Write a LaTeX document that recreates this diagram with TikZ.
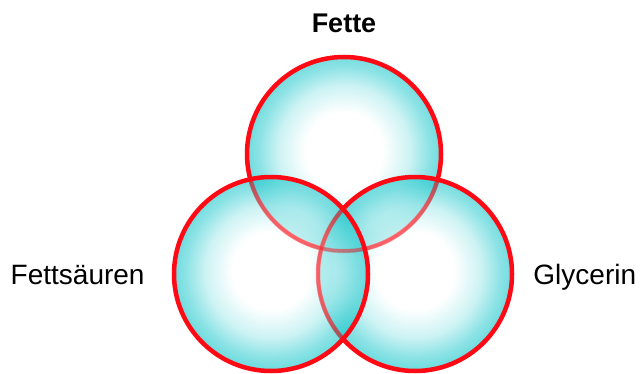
\documentclass[tikz,border=0pt]{standalone}
\usepackage{xcolor}
\usepackage{tikz}
\usetikzlibrary{positioning}
\usepackage{fontspec}
\setmainfont{Liberation Sans}
\definecolor{fetred}{HTML}{FF0A14}
\definecolor{fetteal}{HTML}{10C4C9}
\pgfdeclareradialshading{fetbubble}{\pgfpoint{0bp}{1bp}}{%
  color(0bp)=(white); color(10bp)=(white); color(17bp)=(fetteal!35);
  color(22bp)=(fetteal!80); color(25bp)=(fetteal); color(50bp)=(fetteal)}
\tikzset{
  bubble/.style={circle,draw=fetred,line width=4.5pt,minimum size=194pt,
    inner sep=0pt,shading=fetbubble,fill opacity=0.6,draw opacity=1},
  ghost/.style={fetred,line width=3.5pt,opacity=0.4},
  fetlabel/.style={inner sep=0pt,text height=20pt,text depth=0pt,
    font=\fontsize{28}{32}\selectfont}
}

\begin{document}
\begin{tikzpicture}[x=1pt,y=1pt]
  \useasboundingbox (0,0) rectangle (642,373);
  \node[bubble] (oben) at (344,219) {};
  \node[bubble] (rechts) at (415,99) {};
  \node[bubble] (links) at (271,99) {};
  \draw[ghost] (oben.center) circle[radius=97pt];
  \draw[ghost] (rechts.center) circle[radius=97pt];
  \node[fetlabel,font=\fontsize{27}{32}\selectfont\bfseries,above=22pt of oben] (fette) {Fette};
  \node[fetlabel,left=27pt of links] (saeure) {Fettsäuren};
  \node[fetlabel,right=19pt of rechts] (glycerin) {Glycerin};
\end{tikzpicture}
\end{document}
